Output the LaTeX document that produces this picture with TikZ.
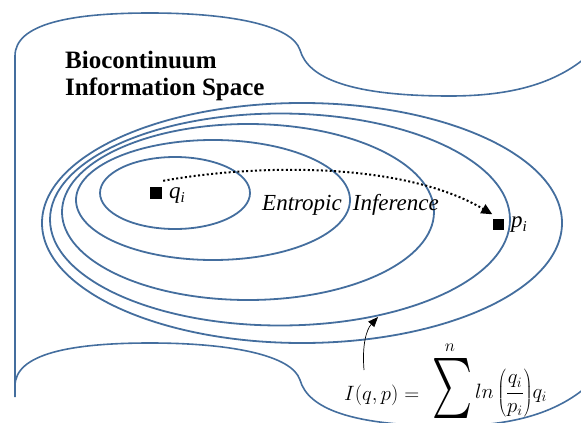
\documentclass[tikz,border=0pt]{standalone}
\usepackage{fontspec}
\setmainfont{Liberation Serif}
\usepackage{graphicx}
\usetikzlibrary{arrows.meta}
\definecolor{ringblue}{RGB}{68,110,158}
\begin{document}
\begin{tikzpicture}[x=1pt,y=-1pt,
  ringline/.style={draw=ringblue,line width=1.8pt},
  sheetline/.style={draw=ringblue,line width=1.6pt},
  marker/.style={fill=black,inner sep=0pt,minimum size=#1},
  titletext/.style={font=\bfseries\fontsize{25}{27}\selectfont,anchor=base west,inner sep=0pt},
  labeltext/.style={font=\itshape\fontsize{23}{26}\selectfont,anchor=base west,inner sep=0pt},
  mathtext/.style={font=\fontsize{22}{26}\selectfont,inner sep=0pt},
  dotarrow/.style={line width=2pt,dash pattern=on 2pt off 2.4pt,-{Triangle[length=11pt,width=10pt]}},
  thinarrow/.style={line width=0.7pt,-{Triangle[length=10pt,width=8pt]}}]
\useasboundingbox (0,0) rectangle (581,423);
\clip (0,0) rectangle (581,423);

% sheet
\draw[sheetline] (15,397) -- (15,56) .. controls (15,24) and (70,13) .. (150,13)
  .. controls (230,13) and (292,25) .. (300,50)
  .. controls (308,78) and (350,96) .. (450,96)
  .. controls (515,96) and (560,82) .. (592,52);
\draw[sheetline] (15,386) .. controls (15,354) and (70,343) .. (150,343)
  .. controls (230,343) and (292,355) .. (300,380)
  .. controls (308,408) and (350,426) .. (450,426)
  .. controls (515,426) and (560,412) .. (592,382);

% nested rings
\draw[ringline] (175,193) ellipse [x radius=75pt, y radius=36pt];
\draw[ringline] (213,200) ellipse [x radius=137pt, y radius=60pt];
\draw[ringline] (248,212) ellipse [x radius=186pt, y radius=88pt];
\draw[ringline] (280,219.5) ellipse [x radius=230pt, y radius=106pt];
\draw[ringline] (302,223) ellipse [x radius=260pt, y radius=120pt];

% title
\node[titletext] (t1) at (65,68) {Biocontinuum};
\node[titletext] (t2) at (65,95) {Information Space};

% points
\node[marker=12pt] (qsq) at (156,193) {};
\node[marker=11pt] (psq) at (498,224) {};
\node[labeltext] (ql) at (169,198) {q\raisebox{-4pt}{\fontsize{15}{15}\selectfont i}};
\node[labeltext] (pl) at (511,227) {p\raisebox{-4pt}{\fontsize{15}{15}\selectfont i}};

% entropic inference
\node[labeltext] (ei) at (262,210) {Entropic\hspace{11pt}Inference};
\draw[dotarrow] ([shift={(1,-6)}]qsq.north east) .. controls (250,165) and (400,160) .. ([shift={(0,-4)}]psq.north west);

% formula
\node[mathtext,anchor=base west] (fl) at (344,400) {$I(q,p) =$};
\node[inner sep=0pt] (fsum) at (452,388) {\resizebox*{40pt}{60pt}{$\sum$}};
\node[font=\fontsize{16}{19}\selectfont,inner sep=0pt] (fn) at (450,348) {$n$};
\node[mathtext,anchor=base west] (fr) at (475,398) {$\displaystyle ln\left(\frac{q_i}{p_i}\right)\!q_i$};
\coordinate (fstart) at (364,370);
\coordinate (ringpt) at (378,317);
\draw[thinarrow] (fstart) .. controls (362,346) and (366,330) .. (ringpt);
\end{tikzpicture}
\end{document}
